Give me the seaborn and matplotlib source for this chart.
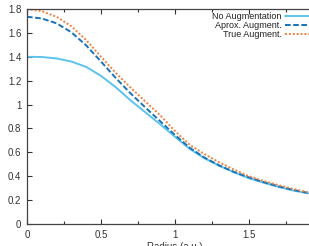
import matplotlib
matplotlib.use('Agg')
import matplotlib.pyplot as plt
from matplotlib.ticker import MultipleLocator
import pandas as pd
import seaborn as sns

# values
radius = [0.0, 0.1, 0.2, 0.3, 0.4, 0.5, 0.6, 0.7, 0.8, 0.9,
          1.0, 1.1, 1.2, 1.3, 1.4, 1.5, 1.6, 1.7, 1.8, 1.9]
no_aug = [1.400, 1.398, 1.386, 1.360, 1.315, 1.240, 1.145, 1.035, 0.935, 0.835,
          0.730, 0.628, 0.550, 0.487, 0.432, 0.383, 0.345, 0.310, 0.280, 0.257]
aprox_aug = [1.735, 1.721, 1.680, 1.605, 1.495, 1.360, 1.222, 1.093, 0.975, 0.860,
             0.745, 0.638, 0.555, 0.490, 0.435, 0.390, 0.350, 0.315, 0.285, 0.260]
true_aug = [1.800, 1.782, 1.735, 1.655, 1.540, 1.400, 1.265, 1.142, 1.025, 0.910,
            0.778, 0.662, 0.585, 0.515, 0.455, 0.400, 0.360, 0.325, 0.293, 0.265]
labels = ['No Augmentation', 'Aprox. Augment.', 'True Augment.']
colors = ['#5cc3ec', '#1a72b8', '#f2803e']
styles = ['-', (0, (2.9, 1.3)), (0, (1.0, 1.0))]

df = pd.DataFrame({'radius': radius, labels[0]: no_aug,
                   labels[1]: aprox_aug, labels[2]: true_aug})

sns.set_style('ticks')
plt.rcParams['font.family'] = ['Liberation Sans', 'DejaVu Sans']

fig = plt.figure(figsize=(3.09, 2.46), dpi=100)
ax = fig.add_axes([0.0874, 0.0894, 0.958, 0.874])

for lab, col, ls in zip(labels, colors, styles):
    sns.lineplot(data=df, x='radius', y=lab, ax=ax, color=col, linestyle=ls,
                 linewidth=1.4, label=lab)

ax.set_xlim(0, 2)
ax.set_ylim(0, 1.8)
ax.xaxis.set_minor_locator(MultipleLocator(0.25))
ax.set_yticks([0, 0.2, 0.4, 0.6, 0.8, 1, 1.2, 1.4, 1.6, 1.8])
ax.set_yticklabels(['0', '0.2', '0.4', '0.6', '0.8', '1', '1.2', '1.4', '1.6', '1.8'])
ax.set_xticks([0, 0.5, 1, 1.5])
ax.set_xticklabels(['0', '0.5', '1', '1.5'])
ax.tick_params(which='both', direction='in', top=True, right=True,
               labelsize=7, colors='#333333', width=0.8)
ax.tick_params(which='major', length=3.5, pad=4)
ax.tick_params(which='minor', length=2)
for sp in ax.spines.values():
    sp.set_color('#444444')
    sp.set_linewidth(0.9)
# label is partly cut off at the bottom edge, as in the reference
ax.set_xlabel('Radius (a.u.)', fontsize=7, color='#333333', labelpad=2)
ax.set_ylabel('')

ax.legend(loc='upper right', bbox_to_anchor=(0.978, 0.984), frameon=False,
          markerfirst=False, fontsize=6.5, handlelength=3.5, handletextpad=0.35,
          labelspacing=0.0, borderaxespad=0, borderpad=0, labelcolor='#222222')

fig.savefig('out.png', dpi=100)
